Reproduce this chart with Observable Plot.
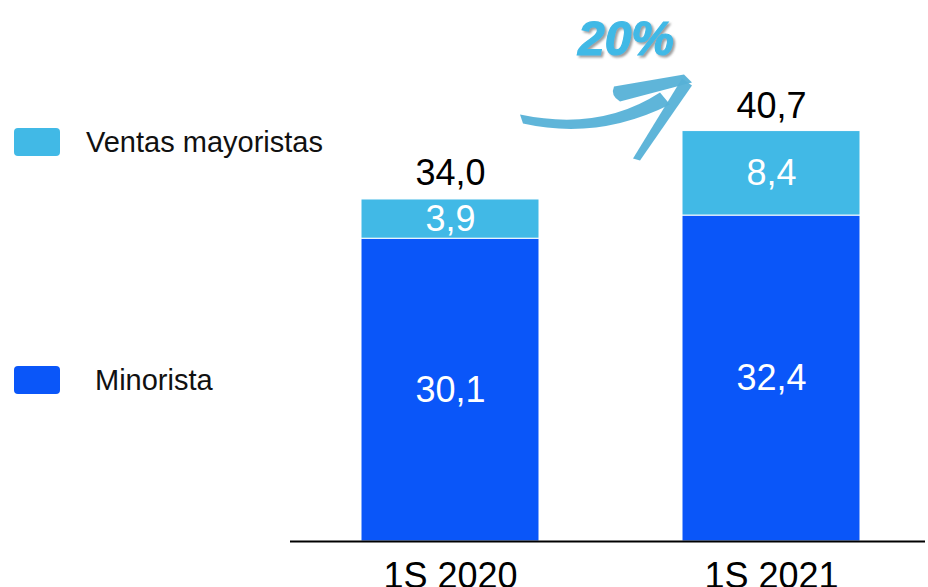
<!DOCTYPE html>
<html>
<head>
<meta charset="utf-8">
<script src="https://cdn.jsdelivr.net/npm/d3@7"></script>
<script src="https://cdn.jsdelivr.net/npm/@observablehq/plot@0.6"></script>
<style>
  html, body { margin: 0; padding: 0; background: #fff; }
  #chart { position: relative; width: 928px; height: 587px; overflow: hidden; }
  svg { font-family: "Liberation Sans", Arial, sans-serif; }
</style>
</head>
<body>
<div id="chart"></div>
<script>
// ---- data ----
const periods = ["1S 2020", "1S 2021"];
const minorista = [30.1, 32.4];
const mayoristas = [3.9, 8.4];
const totals = [34.0, 40.7];
const seriesNames = ["Minorista", "Ventas mayoristas"];
const legendOrder = ["Ventas mayoristas", "Minorista"];
const colors = ["#0A56F9", "#41B9E6"];

const fmt = v => v.toFixed(1).replace(".", ",");
const growth = Math.round((totals[1] / totals[0] - 1) * 100) + "%";

const rows = periods.flatMap((p, i) => [
  {period: p, series: seriesNames[0], value: minorista[i]},
  {period: p, series: seriesNames[1], value: mayoristas[i]}
]);
const totalRows = periods.map((p, i) => ({period: p, total: totals[i]}));

const plot = Plot.plot({
  width: 928,
  height: 587,
  marginLeft: 290,
  marginRight: 3,
  marginTop: 0,
  marginBottom: 46,
  style: {fontFamily: "Liberation Sans, Arial, sans-serif", background: "white"},
  x: {domain: periods, range: [361, 860], paddingInner: 0.4455, paddingOuter: 0, axis: null},
  y: {domain: [0, 53.78], axis: null},
  color: {domain: seriesNames, range: colors},
  marks: [
    Plot.barY(rows, {x: "period", y: "value", fill: "series", stroke: "white", strokeWidth: 1}),
    Plot.text(rows, Plot.stackY({x: "period", y: "value", text: d => fmt(d.value), fill: "white", fontSize: 36})),
    Plot.text(totalRows, {x: "period", y: "total", text: d => fmt(d.total), dy: -26, fill: "black", fontSize: 36}),
    Plot.ruleY([0], {stroke: "black", strokeWidth: 2}),
    Plot.axisX({tickSize: 0, tickPadding: 21, fontSize: 36, fill: "black", label: null})
  ]
});

document.getElementById("chart").appendChild(plot);

// ---- annotations: legend, growth arrow ----
const svg = d3.select(plot);
const xs = plot.scale("x"), ys = plot.scale("y");
const ax = xs.apply(periods[1]), ay = ys.apply(totals[1]);

const defs = svg.append("defs");
const f = defs.append("filter").attr("id", "shadow").attr("x", "-20%").attr("y", "-20%").attr("width", "140%").attr("height", "140%");
f.append("feDropShadow").attr("dx", 2).attr("dy", 2).attr("stdDeviation", 1.2).attr("flood-color", "#777").attr("flood-opacity", 0.7);

const g = svg.append("g").attr("transform", `translate(${ax - 682},${ay - 131})`);
const arrowColor = "#56B1D7";
g.append("path").attr("d", "M520,114 Q600,131 660,92 L670,104 Q598,140 523,123 Z").attr("fill", arrowColor).attr("opacity", 0.95);
g.append("path").attr("d", "M614,86 L684,74 L692,82 L620,101 Q610,95 614,86 Z").attr("fill", arrowColor).attr("opacity", 0.95);
g.append("path").attr("d", "M682,78 L692,85 L640,160 L633,158 Z").attr("fill", arrowColor).attr("opacity", 0.95);
g.append("text")
  .attr("x", 626).attr("y", 38).attr("dy", "0.35em")
  .attr("text-anchor", "middle")
  .attr("font-size", 48).attr("font-weight", "bold").attr("font-style", "italic")
  .attr("fill", "#41B9E6").attr("stroke", "#41B9E6").attr("stroke-width", 1.2)
  .attr("filter", "url(#shadow)")
  .text(growth);

const legendY = {"Ventas mayoristas": 142, "Minorista": 380};
const legendX = {"Ventas mayoristas": 86, "Minorista": 95};
const lg = svg.append("g");
legendOrder.forEach(name => {
  const c = colors[seriesNames.indexOf(name)];
  lg.append("rect").attr("x", 14).attr("y", legendY[name] - 14).attr("width", 46).attr("height", 28).attr("rx", 4).attr("fill", c);
  lg.append("text").attr("x", legendX[name]).attr("y", legendY[name]).attr("dy", "0.35em")
    .attr("text-anchor", "start")
    .attr("font-size", 29).attr("fill", "#111").text(name);
});
</script>
</body>
</html>
